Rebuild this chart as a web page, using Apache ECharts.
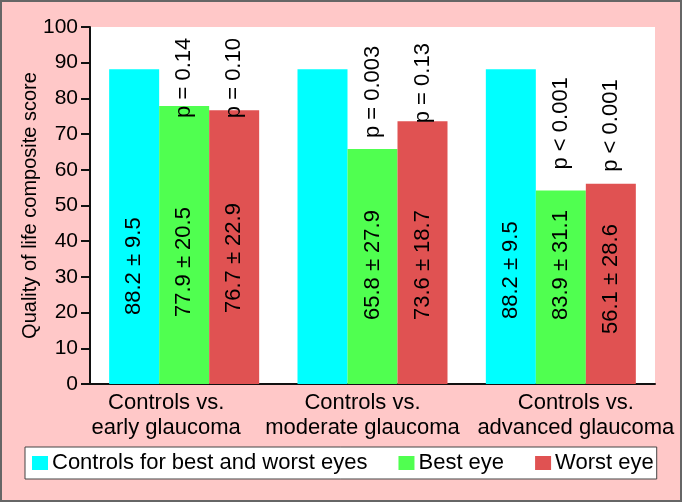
<!DOCTYPE html>
<html>
<head>
<meta charset="utf-8">
<script src="https://cdn.jsdelivr.net/npm/echarts@6/dist/echarts.min.js"></script>
<style>
  html, body { margin: 0; padding: 0; background: #ffc8c8; }
  #chart { width: 682px; height: 502px; }
</style>
</head>
<body>
<div id="chart"></div>
<script>
// data
const categories = ['Controls vs.\nearly glaucoma', 'Controls vs.\nmoderate glaucoma', 'Controls vs.\nadvanced glaucoma'];
const controls = [88.2, 88.2, 88.2];
const bestEye = [77.9, 65.8, 54.2];
const worstEye = [76.7, 73.6, 56.1];
const controlsText = ['88.2 ± 9.5', '', '88.2 ± 9.5'];
const bestText = ['77.9 ± 20.5', '65.8 ± 27.9', '83.9 ± 31.1'];
const worstText = ['76.7 ± 22.9', '73.6 ± 18.7', '56.1 ± 28.6'];
const bestP = ['p = 0.14', 'p = 0.003', 'p < 0.001'];
const worstP = ['p = 0.10', 'p = 0.13', 'p < 0.001'];
const yMin = 0, yMax = 100, yStep = 10;

// label placement (px), kept apart from the data
const meanDist = [[69, 66, 65], [67, 64, 64], [71, 64, 50]]; // per series, per category
const bestPDist = [-12, 11, 21];
const worstPDist = [-8, -2, 12];
const catPadding = [[0, 36, 0, 0], [0, 20, 0, 0], [0, 0, 0, 30]];

const font = "'Liberation Sans', Arial, sans-serif";
const barW = 50;

const meanLabel = function (texts, dists) {
  return function (v, i) {
    return {
      value: v,
      label: {
        show: texts[i] !== '',
        formatter: texts[i],
        position: 'insideBottom',
        distance: dists[i],
        rotate: 90,
        align: 'left',
        verticalAlign: 'middle',
        fontSize: 22,
        fontFamily: font,
        color: '#000'
      }
    };
  };
};

const pLabel = function (texts, dists) {
  return function (v, i) {
    return {
      value: v,
      label: {
        show: true,
        formatter: texts[i],
        position: 'top',
        distance: dists[i],
        rotate: 90,
        align: 'left',
        verticalAlign: 'middle',
        padding: [12, 0, 0, 0],
        fontSize: 22,
        fontFamily: font,
        color: '#000'
      }
    };
  };
};

const chart = echarts.init(document.getElementById('chart'), null, { renderer: 'canvas' });
const option = {
  animation: false,
  backgroundColor: '#ffc8c8',
  textStyle: { fontFamily: font, color: '#000' },
  graphic: [{
    type: 'rect',
    shape: { x: 1, y: 1, width: 680, height: 500 },
    style: { fill: 'none', stroke: '#666', lineWidth: 2 },
    silent: true
  }],
  grid: {
    left: 90, top: 27, right: 27, bottom: 118,
    show: true, backgroundColor: '#fff', borderWidth: 0
  },
  legend: {
    data: ['Controls for best and worst eyes', 'Best eye', 'Worst eye'],
    left: 25, top: 447,
    padding: [5, 3, 5, 7],
    itemWidth: 16, itemHeight: 14, itemGap: 31,
    backgroundColor: '#fff', borderColor: '#444', borderWidth: 1,
    borderRadius: 0,
    icon: 'rect',
    textStyle: { fontSize: 22, fontFamily: font, color: '#000', padding: [0, 0, 0, -1] }
  },
  xAxis: [{
    type: 'category',
    data: categories.map(function (c, i) {
      return { value: c, textStyle: { padding: catPadding[i] } };
    }),
    axisLine: { lineStyle: { color: '#111', width: 2 } },
    axisTick: { show: false },
    axisLabel: { interval: 0, fontSize: 22, lineHeight: 25, margin: 6, color: '#000', fontFamily: font },
    splitLine: { show: false }
  }, {
    type: 'category',
    data: categories,
    show: false
  }],
  yAxis: {
    type: 'value',
    min: yMin, max: yMax, interval: yStep,
    name: 'Quality of life composite score',
    nameLocation: 'middle',
    nameGap: 50,
    nameMoveOverlap: false,
    nameTextStyle: { fontSize: 20, color: '#000', fontFamily: font },
    axisLine: { show: true, lineStyle: { color: '#111', width: 2 } },
    axisTick: { show: true, length: 9, lineStyle: { color: '#111', width: 2 } },
    axisLabel: { fontSize: 21, margin: 12, color: '#000', fontFamily: font },
    splitLine: { show: false }
  },
  series: [
    {
      name: 'Controls for best and worst eyes', type: 'bar',
      barWidth: barW, barGap: '0%',
      itemStyle: { color: '#00ffff' },
      data: controls.map(meanLabel(controlsText, meanDist[0]))
    },
    {
      name: 'Best eye', type: 'bar',
      barWidth: barW, barGap: '0%',
      itemStyle: { color: '#50ff50' },
      data: bestEye.map(meanLabel(bestText, meanDist[1]))
    },
    {
      name: 'Worst eye', type: 'bar',
      barWidth: barW, barGap: '0%',
      itemStyle: { color: '#e05252' },
      data: worstEye.map(meanLabel(worstText, meanDist[2]))
    },
    // p-value labels ride on an invisible copy of the bars (second, hidden x axis)
    {
      name: 'pc', type: 'bar', xAxisIndex: 1, silent: true,
      barWidth: barW, barGap: '0%',
      itemStyle: { color: 'rgba(0,0,0,0)' },
      data: controls
    },
    {
      name: 'pb', type: 'bar', xAxisIndex: 1, silent: true,
      barWidth: barW, barGap: '0%',
      itemStyle: { color: 'rgba(0,0,0,0)' },
      data: bestEye.map(pLabel(bestP, bestPDist))
    },
    {
      name: 'pw', type: 'bar', xAxisIndex: 1, silent: true,
      barWidth: barW, barGap: '0%',
      itemStyle: { color: 'rgba(0,0,0,0)' },
      data: worstEye.map(pLabel(worstP, worstPDist))
    }
  ]
};

option && chart.setOption(option);
</script>
</body>
</html>
